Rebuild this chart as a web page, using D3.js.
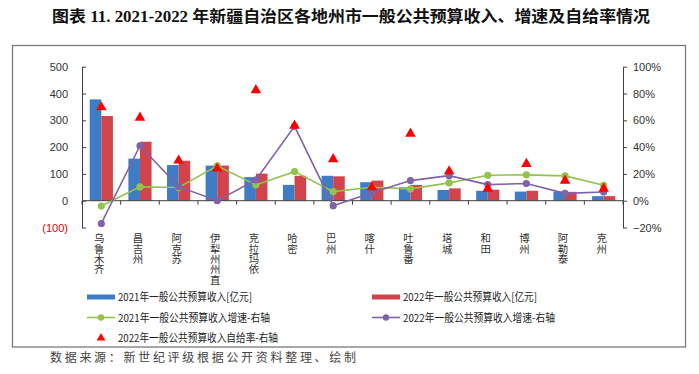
<!DOCTYPE html>
<html><head><meta charset="utf-8">
<script src="https://cdn.jsdelivr.net/npm/d3@7"></script>
<style>body{margin:0;background:#fff}svg{display:block}</style>
</head><body>
<svg id="c" width="699" height="374"></svg>
<script>
const categories = ["乌鲁木齐","昌吉州","阿克苏","伊犁州州直","克拉玛依","哈密","巴州","喀什","吐鲁番","塔城","和田","博州","阿勒泰","克州"];
const rev2021 = [378,157,133,131,88,59,93,69,50,40,37,34,34,17];
const rev2022 = [316,220,149,131,101,93,91,75,59,46,41,37,33,17];
const growth2021 = [-0.04,0.103,0.098,0.26,0.118,0.217,0.068,0.10,0.088,0.133,0.19,0.193,0.185,0.115];
const growth2022 = [-0.17,0.41,0.105,0.0,0.155,0.555,-0.037,0.06,0.15,0.187,0.12,0.128,0.055,0.065];
const selfRate2022 = [0.697,0.62,0.30,0.24,0.825,0.56,0.31,0.10,0.50,0.22,0.09,0.275,0.15,0.09];
const leftTicks = [-100,0,100,200,300,400,500];
const rightTicks = [-0.2,0,0.2,0.4,0.6,0.8,1.0];
const titleText = "图表 11. 2021-2022 年新疆自治区各地州市一般公共预算收入、增速及自给率情况";
const sourceText = "数据来源：新世纪评级根据公开资料整理、绘制";
const seriesNames = ["2021年一般公共预算收入[亿元]","2022年一般公共预算收入[亿元]","2021年一般公共预算收入增速-右轴","2022年一般公共预算收入增速-右轴","2022年一般公共预算收入自给率-右轴"];

const C = {blue:"#3E7CC6", red:"#D2434B", green:"#93C24F", purple:"#8062A8", tri:"#FF0000", axis:"#404040", text:"#333"};
const svg = d3.select("#c");
const L = 82, R = 623, T = 66.7, B = 227.5;

// frame
svg.append("rect").attr("x",12.5).attr("y",45.5).attr("width",673).attr("height",301.5)
  .attr("fill","none").attr("stroke","#7a7a7a").attr("stroke-width",1.3);

// title
svg.append("text").attr("x",52).attr("y",22).attr("textLength",598).attr("lengthAdjust","spacingAndGlyphs")
  .attr("font-family","'Liberation Serif','Noto Sans CJK SC',serif").attr("font-weight","bold")
  .attr("font-size",16).attr("fill","#111").text(titleText);

const x = d3.scaleBand().domain(categories).range([L,R]).padding(0);
const x1 = d3.scaleBand().domain(["a","b"]).range([x.step()*0.2, x.step()*0.8]).padding(0);
const yL = d3.scaleLinear().domain([-100,500]).range([B,T]);
const yR = d3.scaleLinear().domain([-0.2,1.0]).range([B,T]);
const cx = d => x(d)+x.bandwidth()/2;

// bars
const g = svg.append("g");
g.selectAll(".b1").data(categories).join("rect")
  .attr("x",d=>x(d)+x1("a")).attr("width",x1.bandwidth())
  .attr("y",(d,i)=>yL(rev2021[i])).attr("height",(d,i)=>yL(0)-yL(rev2021[i])).attr("fill",C.blue);
g.selectAll(".b2").data(categories).join("rect")
  .attr("x",d=>x(d)+x1("b")).attr("width",x1.bandwidth())
  .attr("y",(d,i)=>yL(rev2022[i])).attr("height",(d,i)=>yL(0)-yL(rev2022[i])).attr("fill",C.red);

// x axis line with ticks at category boundaries
const y0 = yL(0);
svg.append("line").attr("x1",L).attr("x2",R).attr("y1",y0).attr("y2",y0).attr("stroke",C.axis).attr("stroke-width",1);
const bounds = categories.map(d=>x(d)).concat([R]);
svg.selectAll(".xt").data(bounds).join("line").attr("x1",d=>d).attr("x2",d=>d)
  .attr("y1",y0).attr("y2",y0+4).attr("stroke",C.axis);

// left axis
const axL = svg.append("g").attr("transform",`translate(${L},0)`)
  .call(d3.axisLeft(yL).tickValues(leftTicks).tickSizeInner(-4).tickSizeOuter(0).tickPadding(14)
    .tickFormat(d=> d<0 ? `(${Math.abs(d)})` : d));
axL.select(".domain").attr("stroke",C.axis);
axL.selectAll(".tick line").attr("stroke",C.axis);
axL.selectAll("text").attr("font-family","'Liberation Sans',Arial,sans-serif").attr("font-size",11)
  .attr("fill",d=>d<0?"#E00000":C.text);

// right axis
const axR = svg.append("g").attr("transform",`translate(${R},0)`)
  .call(d3.axisRight(yR).tickValues(rightTicks).tickSizeInner(4).tickSizeOuter(0).tickPadding(6)
    .tickFormat(d3.format(".0%")));
axR.select(".domain").attr("stroke",C.axis);
axR.selectAll(".tick line").attr("stroke",C.axis);
axR.selectAll("text").attr("font-family","'Liberation Sans',Arial,sans-serif").attr("font-size",11).attr("fill",C.text);

// category labels, vertical writing
svg.selectAll(".cat").data(categories).join("text")
  .attr("x",d=>cx(d)-2).attr("y",233)
  .style("writing-mode","vertical-rl").style("text-orientation","upright")
  .attr("font-family","'Noto Sans CJK SC',sans-serif").attr("font-size",10.4)
  .attr("letter-spacing",0).attr("fill",C.text).text(d=>d);

// lines
function lineSeries(vals,color){
  const pts = categories.map((c,i)=>[cx(c),yR(vals[i])]);
  svg.append("path").attr("d",d3.line()(pts)).attr("fill","none").attr("stroke",color).attr("stroke-width",1.6);
  svg.selectAll(null).data(pts).join("circle").attr("cx",d=>d[0]).attr("cy",d=>d[1]).attr("r",3.6).attr("fill",color);
}
lineSeries(growth2021,C.green);
lineSeries(growth2022,C.purple);

// triangles
const tri = d3.symbol().type(d3.symbolTriangle).size(48);
svg.selectAll(".tri").data(categories).join("path")
  .attr("transform",(d,i)=>`translate(${cx(d)},${yR(selfRate2022[i])})`).attr("d",tri).attr("fill",C.tri);

// legend
const lf = "'Noto Sans CJK SC',sans-serif";
const legItems = [
  {col:0,row:0,type:"bar",color:C.blue,name:seriesNames[0],w:134},
  {col:1,row:0,type:"bar",color:C.red,name:seriesNames[1],w:134},
  {col:0,row:1,type:"line",color:C.green,name:seriesNames[2],w:152},
  {col:1,row:1,type:"line",color:C.purple,name:seriesNames[3],w:152},
  {col:0,row:2,type:"tri",color:C.tri,name:seriesNames[4],w:160},
];
const colX = [87,372], rowY = [297,317.5,338];
legItems.forEach(it=>{
  const x0 = colX[it.col], yy = rowY[it.row];
  if(it.type==="bar") svg.append("rect").attr("x",x0).attr("y",yy-2.5).attr("width",28).attr("height",5).attr("fill",it.color);
  else if(it.type==="line"){
    svg.append("line").attr("x1",x0).attr("x2",x0+28).attr("y1",yy).attr("y2",yy).attr("stroke",it.color).attr("stroke-width",1.6);
    svg.append("circle").attr("cx",x0+14).attr("cy",yy).attr("r",3.2).attr("fill",it.color);
  } else svg.append("path").attr("transform",`translate(${x0+14},${yy})`).attr("d",d3.symbol().type(d3.symbolTriangle).size(34)()).attr("fill",it.color);
  svg.append("text").attr("x",x0+31).attr("y",yy+4).attr("font-family",lf).attr("font-size",11)
    .attr("textLength",it.w).attr("lengthAdjust","spacingAndGlyphs").attr("fill","#222").text(it.name);
});

// source
svg.append("text").attr("x",50).attr("y",362).attr("textLength",306).attr("lengthAdjust","spacing")
  .attr("font-family",lf).attr("font-size",12).attr("fill","#444").text(sourceText);
</script>
</body></html>
